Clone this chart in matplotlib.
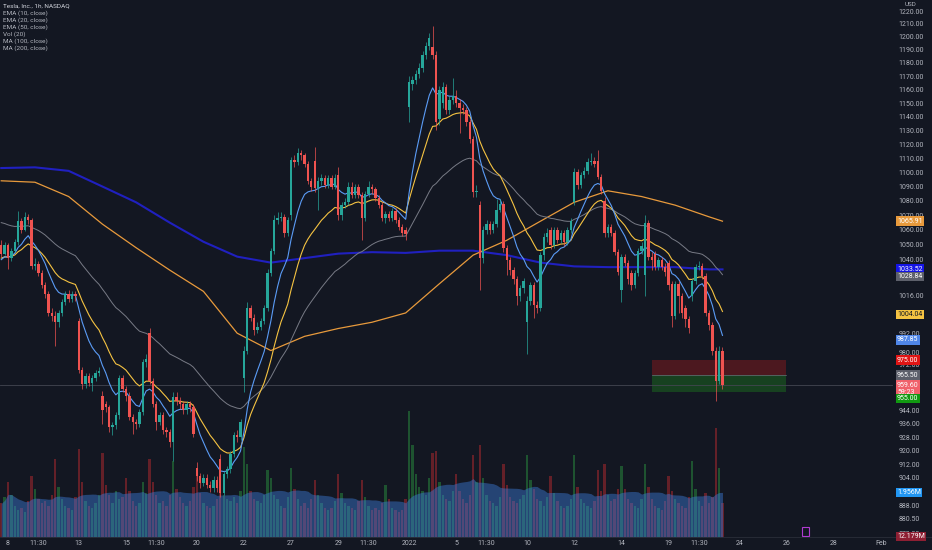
import numpy as np
import pandas as pd
import matplotlib
matplotlib.use('Agg')
import matplotlib.pyplot as plt
import matplotlib.transforms as mtransforms
from matplotlib.patches import Rectangle
from matplotlib.ticker import NullLocator

# TSLA 1h candles, Dec 7 2021 14:30 -> Jan 21 2022 11:30
open_ = [1050, 1044, 1050, 1041, 1046, 1052, 1066, 1060, 1069, 1067,
         1036, 1037, 1031, 1023, 1017, 1005, 1003, 999, 1005, 1012,
         1017, 1014, 1017, 1000, 969, 960, 965, 961, 964, 967,
         953, 948, 946, 934, 935, 941, 964, 957, 953, 940,
         937, 936, 943, 974, 992, 962, 948, 937, 941, 932,
         931, 925, 952, 950, 948, 944, 948, 946, 910, 905,
         901, 904, 900, 898, 903, 915, 895, 906, 909, 918,
         929, 928, 964, 981, 1008, 1002, 994, 996, 1000, 1008,
         1031, 1046, 1067, 1068, 1069, 1058, 1070, 1109, 1107, 1114,
         1112, 1106, 1094, 1108, 1089, 1094, 1096, 1091, 1096, 1090,
         1098, 1070, 1077, 1079, 1090, 1084, 1090, 1084, 1068, 1085,
         1090, 1088, 1082, 1077, 1068, 1071, 1068, 1073, 1067, 1062,
         1060, 1147, 1164, 1167, 1172, 1176, 1186, 1193, 1192, 1186,
         1138, 1150, 1162, 1145, 1152, 1155, 1150, 1146, 1145, 1136,
         1124, 1086, 1077, 1041, 1060, 1064, 1060, 1064, 1074, 1078,
         1048, 1040, 1033, 1027, 1016, 1021, 999, 1013, 1023, 1010,
         1008, 1043, 1055, 1060, 1050, 1060, 1053, 1058, 1052, 1060,
         1079, 1100, 1091, 1098, 1101, 1107, 1108, 1108, 1097, 1080,
         1058, 1062, 1058, 1045, 1020, 1042, 1038, 1031, 1023, 1031,
         1046, 1030, 1065, 1042, 1044, 1035, 1040, 1035, 1038, 1024,
         1003, 1024, 1016, 1008, 1001, 1016, 1026, 1035, 1036, 1029,
         1005, 997, 981, 962, 981]
close = [1044, 1050, 1041, 1046, 1052, 1066, 1060, 1069, 1067, 1036,
         1037, 1031, 1023, 1017, 1005, 1003, 999, 1005, 1012, 1017,
         1014, 1017, 1016, 969, 960, 965, 961, 964, 967, 968,
         944, 946, 934, 935, 941, 964, 957, 953, 940, 937,
         936, 943, 974, 976, 962, 948, 937, 941, 932, 931,
         925, 952, 950, 948, 944, 948, 946, 930, 905, 901,
         904, 900, 898, 903, 898, 895, 906, 909, 918, 929,
         928, 937, 981, 1008, 1002, 994, 996, 1000, 1008, 1031,
         1046, 1067, 1068, 1069, 1058, 1067, 1109, 1107, 1114, 1112,
         1106, 1094, 1090, 1089, 1094, 1096, 1091, 1096, 1090, 1096,
         1070, 1077, 1079, 1090, 1084, 1090, 1084, 1068, 1085, 1090,
         1088, 1082, 1077, 1068, 1071, 1068, 1073, 1067, 1062, 1058,
         1057, 1166, 1167, 1172, 1176, 1186, 1193, 1199, 1186, 1136,
         1160, 1162, 1145, 1152, 1155, 1150, 1146, 1145, 1136, 1124,
         1086, 1087, 1041, 1060, 1064, 1060, 1064, 1074, 1078, 1048,
         1040, 1033, 1027, 1016, 1021, 1026, 1013, 1023, 1010, 1008,
         1043, 1055, 1058, 1050, 1060, 1053, 1058, 1052, 1060, 1066,
         1100, 1091, 1098, 1101, 1107, 1108, 1106, 1097, 1087, 1058,
         1062, 1058, 1045, 1032, 1042, 1038, 1027, 1023, 1031, 1046,
         1049, 1065, 1042, 1040, 1035, 1040, 1035, 1032, 1023, 1003,
         1024, 1016, 1005, 1001, 995, 1026, 1035, 1036, 1029, 1005,
         997, 981, 962, 981, 959.6]
high = [1053, 1052, 1051, 1048, 1054, 1073, 1068, 1072, 1071, 1068,
        1041, 1039, 1033, 1025, 1019, 1008, 1006, 1007, 1014, 1019,
        1020, 1019, 1019, 1002, 971, 967, 967, 966, 969, 971,
        956, 950, 947, 937, 943, 966, 966, 959, 955, 942,
        939, 945, 976, 979, 995, 964, 950, 943, 943, 934,
        933, 955, 955, 952, 950, 950, 950, 948, 913, 907,
        906, 906, 902, 905, 905, 918, 908, 911, 920, 931,
        932, 939, 984, 1012, 1010, 1004, 999, 1002, 1010, 1034,
        1048, 1070, 1072, 1072, 1071, 1069, 1111, 1112, 1117, 1116,
        1114, 1108, 1096, 1118, 1097, 1099, 1098, 1098, 1098, 1099,
        1104, 1079, 1082, 1093, 1093, 1092, 1092, 1086, 1087, 1094,
        1092, 1090, 1084, 1079, 1073, 1073, 1075, 1075, 1069, 1064,
        1062, 1170, 1170, 1175, 1180, 1189, 1196, 1203, 1208, 1189,
        1163, 1166, 1164, 1155, 1169, 1160, 1153, 1149, 1147, 1138,
        1126, 1091, 1080, 1063, 1067, 1066, 1066, 1081, 1081, 1080,
        1050, 1042, 1035, 1029, 1023, 1028, 1016, 1025, 1025, 1013,
        1045, 1058, 1061, 1062, 1062, 1062, 1060, 1060, 1062, 1068,
        1103, 1102, 1100, 1104, 1110, 1114, 1111, 1116, 1099, 1083,
        1064, 1064, 1060, 1047, 1044, 1044, 1040, 1033, 1033, 1048,
        1052, 1070, 1067, 1045, 1046, 1042, 1042, 1038, 1040, 1026,
        1026, 1026, 1018, 1010, 1003, 1028, 1037, 1039, 1038, 1031,
        1007, 999, 983, 984, 983]
low = [1042, 1043, 1034, 1039, 1045, 1050, 1058, 1059, 1064, 1034,
       1033, 1029, 1021, 1015, 1003, 1000, 984, 996, 1003, 1010,
       1012, 1012, 1013, 967, 957, 958, 959, 956, 962, 965,
       936, 943, 931, 929, 933, 939, 955, 950, 938, 930,
       933, 934, 941, 971, 960, 946, 932, 935, 930, 928,
       922, 914, 947, 945, 942, 942, 943, 928, 902, 898,
       899, 898, 896, 896, 896, 893, 894, 904, 907, 916,
       925, 926, 955, 979, 1000, 991, 992, 994, 998, 1006,
       1029, 1044, 1064, 1066, 1055, 1056, 1067, 1104, 1105, 1109,
       1104, 1092, 1087, 1086, 1074, 1091, 1089, 1089, 1088, 1088,
       1067, 1067, 1075, 1077, 1082, 1082, 1082, 1053, 1066, 1083,
       1085, 1080, 1075, 1066, 1065, 1066, 1066, 1065, 1060, 1056,
       1053, 1136, 1160, 1164, 1169, 1173, 1183, 1190, 1183, 1130,
       1134, 1146, 1142, 1142, 1149, 1147, 1128, 1142, 1133, 1121,
       1083, 1083, 1020, 1038, 1057, 1057, 1058, 1062, 1072, 1045,
       1030, 1030, 1024, 1010, 1013, 1018, 979, 1010, 1002, 1005,
       1006, 1040, 1052, 1047, 1048, 1051, 1051, 1049, 1050, 1058,
       1077, 1088, 1089, 1096, 1099, 1105, 1104, 1095, 1085, 1055,
       1055, 1056, 1043, 1030, 1012, 1036, 1024, 1020, 1021, 1029,
       1044, 1016, 1040, 1033, 1033, 1033, 1033, 1029, 1020, 996,
       1001, 1005, 1002, 996, 992, 1013, 1024, 1033, 1027, 1003,
       994, 978, 950, 960, 957]
# hourly volume, millions
volume = [1.6, 1.9,
          2.6, 2.0, 1.5, 1.3, 1.4, 1.2, 1.7,
          2.9, 2.3, 1.8, 1.6, 1.7, 1.5, 2.0,
          3.7, 2.4, 1.8, 1.5, 1.4, 1.3, 1.9,
          4.2, 2.6, 1.7, 1.5, 1.4, 1.6, 2.0,
          4.0, 2.5, 2.0, 1.6, 2.2, 1.8, 1.9,
          2.8, 2.2, 1.7, 1.5, 1.6, 2.6, 2.1,
          3.7, 2.6, 2.0, 1.6, 1.7, 1.5, 2.0,
          3.6, 2.3, 1.9, 1.6, 1.5, 1.7, 2.4,
          3.3, 2.1, 1.6, 1.5, 1.4, 1.5, 1.8,
          3.0, 2.0, 1.8, 1.7, 1.9, 1.6, 2.2,
          4.3, 3.5, 2.2, 1.8, 1.7, 1.6, 2.0,
          3.2, 2.8, 2.0, 1.8, 1.5, 1.4, 1.9,
          3.3, 2.3, 1.8, 1.5, 1.6, 1.4, 1.8,
          2.7, 2.0, 1.6, 1.4, 1.3, 1.4, 1.7,
          3.0, 2.1, 1.6, 1.5, 1.4, 1.3, 1.7,
          2.7, 1.9, 1.5, 1.3, 1.4, 1.3, 1.6,
          2.5, 1.8, 1.4, 1.3, 1.2, 1.3, 1.8,
          6.0, 4.4, 3.0, 2.4, 2.2, 2.0, 2.8,
          4.0, 4.1, 2.6, 2.0, 1.8, 1.7, 2.2,
          3.0, 2.2, 1.8, 1.6, 2.0, 3.9, 2.6,
          4.4, 2.8, 2.0, 1.7, 1.6, 1.5, 1.9,
          3.5, 2.5, 1.9, 1.7, 1.6, 1.8, 2.0,
          3.9, 2.7, 2.3, 1.8, 1.7, 1.5, 1.9,
          2.9, 2.1, 1.7, 1.5, 1.4, 1.5, 1.8,
          3.9, 2.4, 1.8, 1.6, 1.5, 1.4, 1.7,
          3.2, 2.2, 3.5, 2.0, 1.7, 1.8, 2.3,
          3.4, 2.3, 1.8, 1.6, 1.5, 1.4, 1.8,
          3.5, 2.4, 1.8, 1.5, 1.4, 1.3, 1.7,
          2.9, 2.2, 1.8, 1.6, 1.5, 1.4, 1.9,
          3.6, 2.3, 1.7, 1.5, 2.1, 1.6, 1.9,
          5.2, 3.3, 1.6]

# MA(100) / MA(200) at these bars
ma_bars = [0, 10, 20, 30, 40, 50, 60, 70, 80, 90, 100, 110, 120, 130, 140,
           150, 160, 170, 180, 190, 200, 210, 214]
ma100 = [1094, 1093, 1083, 1064, 1048, 1033, 1019, 992, 981, 990, 995, 999,
         1005, 1024, 1043, 1053, 1066, 1079, 1087, 1083, 1077, 1069, 1066]
ma200 = [1103, 1103.5, 1101, 1090, 1079, 1065, 1052, 1042, 1038, 1041, 1044,
         1045, 1044.5, 1046, 1046, 1043, 1038, 1035.5, 1035, 1035, 1035,
         1033.5, 1033.5]
# EMA values at the first visible bar
ema_start = {10: 1040, 20: 1041, 50: 1065}

tick_bars = [2, 11, 23, 37, 46, 58, 72, 86, 100, 109, 121, 135, 144, 156,
             170, 184, 198, 207, 219, 233, 247, 261]
tick_text = ['8', '11:30', '13', '15', '11:30', '20', '22', '27', '29', '11:30',
             '2022', '5', '11:30', '10', '12', '14', '19', '11:30', '24', '26',
             '28', 'Feb']
price_ticks = [1220, 1210, 1200, 1190, 1180, 1170, 1160, 1150, 1140, 1130,
               1120, 1110, 1100, 1090, 1080, 1070, 1060, 1050, 1040, 1016,
               992, 980, 972, 944, 936, 928, 920, 912, 904, 888, 880.5, 872]

# position tool: stop / entry / target
stop, entry, target = 975.0, 965.5, 955.0
box_bars = (193.1, 232.9)

BG = '#131722'
TXT = '#b2b5be'
UP, DOWN = '#26a69a', '#ef5350'

plt.rcParams['font.family'] = ['Roboto', 'DejaVu Sans']

def ema(values, span, start):
    a = 2.0 / (span + 1)
    out = [start]
    for v in values[1:]:
        out.append(out[-1] + a * (v - out[-1]))
    return np.array(out)

o = np.array(open_, float)
c = np.array(close, float)
h = np.array(high, float)
l = np.array(low, float)
x = np.arange(len(c))
up = c >= o

fig = plt.figure(figsize=(9.32, 5.5), dpi=100, facecolor=BG)
ax = fig.add_axes([0, 13 / 550, 893 / 932, 537 / 550])
vax = ax.twinx()

# volume pane
vol = pd.Series(volume)
vol_ma = vol.rolling(20, min_periods=1).mean()
vcol = np.where(up, '#2a8f3e', '#b52a2f')
vax.bar(x, vol, width=0.7, color=vcol, alpha=0.5, linewidth=0)
vax.fill_between(x, 0, vol_ma, color='#3d7bd9', alpha=0.45, linewidth=0)
vax.set_ylim(0, 25.6)
vax.set_yticks([])
for s in vax.spines.values():
    s.set_visible(False)

ax.set_zorder(vax.get_zorder() + 1)
ax.patch.set_visible(False)

# position tool boxes
ax.add_patch(Rectangle((box_bars[0], entry), box_bars[1] - box_bars[0], stop - entry,
                       facecolor='#b71c1c', alpha=0.35, linewidth=0, zorder=1))
ax.add_patch(Rectangle((box_bars[0], target), box_bars[1] - box_bars[0], entry - target,
                       facecolor='#1b5e20', alpha=0.6, linewidth=0, zorder=1))
ax.plot(box_bars, [entry, entry], color='#6b6f7a', lw=0.5, zorder=1.5)

ax.axhline(c[-1], color='#434651', lw=0.6, zorder=1)

# moving averages
ax.plot(ma_bars, ma200, color='#2020c0', lw=1.5, zorder=2)
ax.plot(ma_bars, ma100, color='#e89a3c', lw=0.9, zorder=2)
ax.plot(x, ema(c, 50, ema_start[50]), color='#787b86', lw=0.7, zorder=2)
ax.plot(x, ema(c, 20, ema_start[20]), color='#f5c342', lw=0.8, zorder=2)
ax.plot(x, ema(c, 10, ema_start[10]), color='#5b9cf6', lw=0.8, zorder=2)

# candles
ccol = np.where(up, UP, DOWN)
ax.vlines(x, l, h, colors=ccol, lw=0.5, zorder=3)
body = np.maximum(np.abs(c - o), 0.6)
ax.bar(x, body, bottom=np.minimum(o, c), width=0.7, color=ccol, linewidth=0, zorder=4)

ax.set_yscale('log')
ax.set_ylim(870.3, 1228.7)
ax.set_xlim(-0.374, 264.6)
ax.yaxis.set_minor_locator(NullLocator())
ax.set_yticks(price_ticks)
ax.set_yticklabels(['%.2f' % v for v in price_ticks])
ax.yaxis.tick_right()
ax.tick_params(axis='y', which='both', length=0, pad=4, labelsize=5, colors=TXT)
ax.set_xticks(tick_bars)
ax.set_xticklabels(tick_text)
ax.tick_params(axis='x', length=0, pad=2.5, labelsize=5, colors=TXT)
for s in ax.spines.values():
    s.set_visible(False)
fig.add_artist(plt.Line2D([0, 1], [13 / 550, 13 / 550], color='#2a2e39', lw=0.6))

# last-value price labels (the target label is pushed down below the
# last-price box, as the platform does to keep labels apart)
trans = mtransforms.blended_transform_factory(fig.transFigure, ax.transData)
labels = [('1065.91', 1065.91, '#e89a3c'), ('1033.52', 1033.52, '#1414e6'),
          ('1028.84', 1028.84, '#5d606b'), ('1004.04', 1004.04, '#f5c342'),
          ('987.85', 987.85, '#4f86e8'), ('975.00', stop, '#e01414'),
          ('965.50', entry, '#5d606b')]
for txt, val, col in labels:
    fc = '#131722' if col == '#f5c342' else 'white'
    ax.text(897 / 932, val, txt, transform=trans, fontsize=5, color=fc,
            va='center', ha='left', zorder=10, clip_on=False,
            bbox=dict(boxstyle='square,pad=0.2', fc=col, ec='none'))
ax.text(897 / 932, 961.6, '959.60\n59:23', transform=trans, fontsize=5,
        color='white', va='top', ha='left', linespacing=1.05, zorder=11,
        clip_on=False, bbox=dict(boxstyle='square,pad=0.2', fc='#f0616a', ec='none'))
ax.text(897 / 932, 951.2, '955.00', transform=trans, fontsize=5, color='white',
        va='center', ha='left', zorder=12, clip_on=False,
        bbox=dict(boxstyle='square,pad=0.2', fc='#119911', ec='none'))

vtrans = mtransforms.blended_transform_factory(fig.transFigure, vax.transData)
vax.text(897 / 932, vol_ma.iloc[-1], '1.956M', transform=vtrans, fontsize=5,
         color='white', va='center', ha='left', zorder=10,
         bbox=dict(boxstyle='square,pad=0.2', fc='#2196f3', ec='none'))
fig.text(897 / 932, 13.5 / 550, '12.179M', fontsize=5, color='white', va='center',
         ha='left', bbox=dict(boxstyle='square,pad=0.2', fc='#8e1f33', ec='none'))
fig.text(905 / 932, 1 - 5 / 550, 'USD', fontsize=4.5, color=TXT, va='center', ha='left')

# legend
legend = ['Tesla, Inc., 1h, NASDAQ', 'EMA (10, close)', 'EMA (20, close)',
          'EMA (50, close)', 'Vol (20)', 'MA (100, close)', 'MA (200, close)']
for k, t in enumerate(legend):
    fig.text(3 / 932, 1 - (6 + 7 * k) / 550, t, fontsize=4.6,
             color='#d1d4dc' if k == 0 else TXT, va='center', ha='left')

# event marker
fig.add_artist(Rectangle((802 / 932, 14 / 550), 7 / 932, 9 / 550, transform=fig.transFigure,
                         fill=False, edgecolor='#b03bd1', lw=0.8))

fig.savefig('out.png', dpi=100, facecolor=BG)
